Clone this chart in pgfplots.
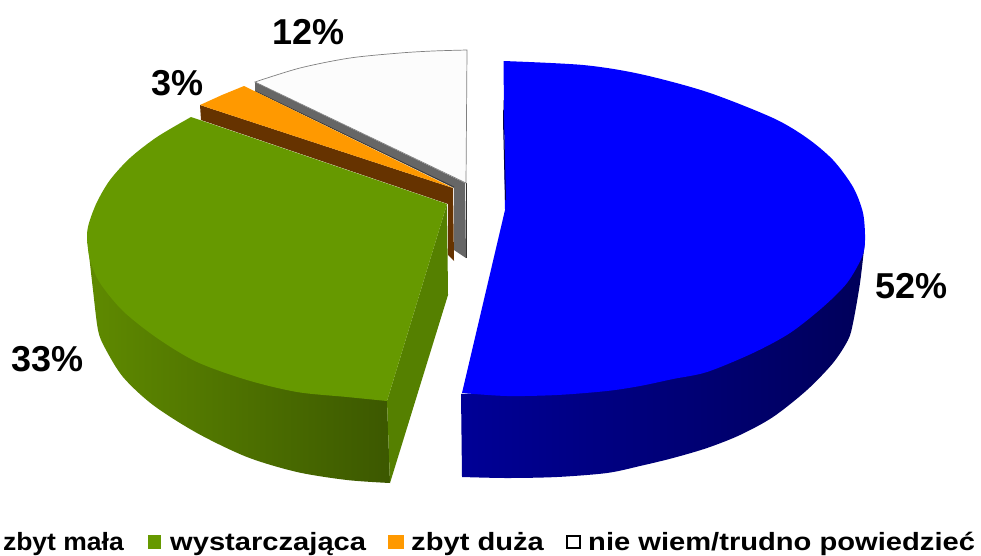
\documentclass[border=0pt]{standalone}
\usepackage{pgfplots}
\pgfplotsset{compat=1.18}
\usepackage{fontspec}
\setmainfont{Liberation Sans}
\definecolor{bluetop}{RGB}{0,0,255}
\definecolor{greentop}{RGB}{102,153,0}
\definecolor{greencut}{RGB}{85,128,0}
\definecolor{orangetop}{RGB}{255,153,0}
\definecolor{brownside}{RGB}{102,51,0}
\definecolor{greyside}{RGB}{102,102,102}
\definecolor{whitetop}{RGB}{252,252,252}
\newcommand{\lab}[1]{{\fontsize{36}{36}\selectfont\bfseries #1}}
\newcommand{\leg}[1]{\scalebox{1.165}[1]{\fontsize{25}{25}\selectfont\bfseries #1}}
\begin{document}
\begin{tikzpicture}
\useasboundingbox (0,0) rectangle (981pt,555pt);
\begin{axis}[at={(0,0)},anchor=south west,scale only axis,width=981pt,height=555pt,
  xmin=0,xmax=981,ymin=0,ymax=555,y dir=reverse,hide axis,clip=false,no markers]
% white slice
\addplot[draw=none,fill=greyside] coordinates {(255,82)(465,183)(466,258)(454,250)(454,188)(255,91)} -- cycle;
\addplot[draw=black!80,line width=0.6pt] coordinates {(255,91)(454,187)};
\addplot[draw=black!80,line width=0.6pt] coordinates {(466,183)(466,258)};
\addplot[smooth,draw=gray,line width=0.7pt,fill=whitetop] coordinates {(255,82)(300,68)(350,58)(400,53)(433,51)(467,50)} -- (axis cs:466,183) -- cycle;
% orange slice
\addplot[draw=none,fill=brownside] coordinates {(200,105)(453,188)(454,261)(448,255)(448,204)(201,120)} -- cycle;
\addplot[draw=none,fill=orangetop] coordinates {(200,105)(222,95)(244,86)(453,188)} -- cycle;
% green slice
\addplot[smooth,draw=none,left color={rgb,255:red,95;green,138;blue,0},right color={rgb,255:red,60;green,88;blue,0}] coordinates {(87,237)(93,290)(98,330)(105,348)(123,377)(153,405)(197,433)(247,457)(297,472)(347,480)(390,483)} -- (axis cs:387,401) -- (axis cs:250,300) -- cycle;
\addplot[draw=none,fill=greencut] coordinates {(387,401)(447,204)(448,295)(390,483)} -- cycle;
\addplot[smooth,draw=none,fill=greentop] coordinates {(191,117)(157,137)(130,158)(110,180)(97,202)(89,223)(87,237)(90,260)(100,283)(123,311)(157,338)(197,362)(247,380)(297,392)(347,397)(387,401)} -- (axis cs:447,204) -- cycle;
% blue slice
\addplot[smooth,draw=none,left color={rgb,255:red,0;green,0;blue,150},middle color={rgb,255:red,0;green,0;blue,105},right color={rgb,255:red,0;green,0;blue,90}] coordinates {(865,240)(860,283)(853,323)(848,340)(833,363)(807,390)(773,417)(740,435)(707,448)(673,458)(640,466)(607,473)(557,477)(507,478)(462,477)} -- (axis cs:461,394) -- (axis cs:640,386) -- cycle;
\addplot[smooth,draw=none,fill=bluetop] coordinates {(503.5,61)(583,65)(640,74)(707,92)(773,118)(807,138)(833,160)(853,187)(863,213)(865,240)(862,257)(847,283)(823,307)(790,333)(753,353)(707,372)(673,379)(640,386)(607,391)(557,395)(507,396)(462,393)} -- (axis cs:505,210) -- cycle;
\addplot[draw=none,fill=black!70!blue] coordinates {(503.5,100)(503,120)(505,200)(506,200)} -- cycle;
\end{axis}
\begin{scope}[x=1pt,y=-1pt,yshift=555pt]
\node[anchor=base west,inner sep=0pt] at (272,45) {\lab{12\%}};
\node[anchor=base west,inner sep=0pt] at (151,96) {\lab{3\%}};
\node[anchor=base west,inner sep=0pt] at (875,298) {\lab{52\%}};
\node[anchor=base west,inner sep=0pt] at (11,371) {\lab{33\%}};
\node[anchor=base east,inner sep=0pt] at (124,550) {\scalebox{1.06}[1]{\fontsize{25}{25}\selectfont\bfseries zbyt mała}};
\node[anchor=base west,inner sep=0pt] at (170,550) {\leg{wystarczająca}};
\node[anchor=base west,inner sep=0pt] at (411,550) {\leg{zbyt duża}};
\node[anchor=base west,inner sep=0pt] at (588,550) {\leg{nie wiem/trudno powiedzieć}};
\fill[greentop] (148,535) rectangle (161,549);
\fill[orangetop] (388,535) rectangle (404,549);
\draw[black,line width=1.4pt,fill=white] (567,536) rectangle (580,548);
\end{scope}
\end{tikzpicture}
\end{document}
